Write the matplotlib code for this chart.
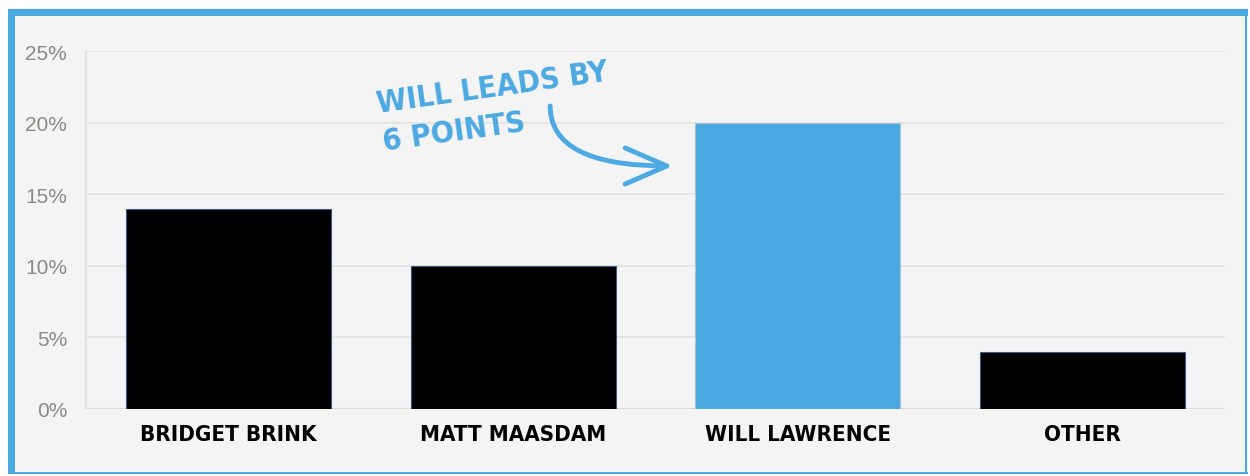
import matplotlib.pyplot as plt
from matplotlib.patches import Rectangle

# data
candidates = ['BRIDGET BRINK', 'MATT MAASDAM', 'WILL LAWRENCE', 'OTHER']
support = [14, 10, 20, 4]
bar_colors = ['#000000', '#000000', '#4aa9e1', '#000000']
edge_colors = ['#3a5a80', '#3a5a80', '#a8c4dc', '#3a5a80']
y_ticks = [0, 5, 10, 15, 20, 25]
y_labels = ['0%', '5%', '10%', '15%', '20%', '25%']

blue = '#4ca9e1'
bg = '#f4f4f4'

fig = plt.figure(figsize=(12.5, 4.77), dpi=100)
fig.patch.set_facecolor('white')

# panel background + blue frame
frame = [
    ((8, 2), 1240, 466, bg),
    ((8, 460), 1240, 7, blue),
    ((8, 2), 7, 465, blue),
    ((1245, 2), 2, 465, blue),
    ((8, 2), 1240, 2, blue),
]
for (fx, fy), fw, fh, fc in frame:
    fig.patches.append(Rectangle((fx / 1250, fy / 477), fw / 1250, fh / 477,
                                 transform=fig.transFigure, facecolor=fc,
                                 edgecolor='none', zorder=-10))

ax = fig.add_axes([86 / 1250, 67 / 477, 1139 / 1250, 358 / 477])
ax.set_facecolor('none')
ax.set_zorder(5)

x = range(len(candidates))
ax.bar(x, support, width=0.72, color=bar_colors, edgecolor=edge_colors,
       linewidth=0.8, zorder=3)

ax.set_xlim(-0.5, 3.5)
ax.set_ylim(0, 25)
ax.set_yticks(y_ticks)
ax.set_yticklabels(y_labels, color='#8a8a85', fontsize=15,
                   family=['Liberation Sans', 'DejaVu Sans'])
ax.set_xticks(list(x))
ax.set_xticklabels(candidates, fontsize=16, fontweight='bold',
                   fontstretch='condensed', family='DejaVu Sans')
ax.tick_params(axis='y', length=0, pad=13.5)
ax.tick_params(axis='x', length=0, pad=11)
ax.grid(axis='y', color='#e4e4de', linewidth=1.2, zorder=0)
for s in ['top', 'right', 'bottom']:
    ax.spines[s].set_visible(False)
ax.spines['left'].set_color('#e0e0da')
ax.spines['left'].set_linewidth(1.2)
ax.axhline(0, color='#dcdcd6', linewidth=1.5, zorder=2)

# annotation
ax.text(0.515, 22.3, 'WILL LEADS BY\n6 POINTS', color=blue, fontsize=22,
        fontweight='bold', fontstretch='condensed', family='DejaVu Sans',
        rotation=8, rotation_mode='anchor', ha='left', va='top',
        linespacing=1.4)
ax.annotate('', xy=(1.561, 16.97), xytext=(1.13, 21.16),
            arrowprops=dict(arrowstyle='->,head_length=1.5,head_width=0.65',
                            color=blue, lw=3.5, mutation_scale=20,
                            shrinkA=0, shrinkB=0,
                            connectionstyle='angle3,angleA=90,angleB=0'))

fig.savefig('out.png', dpi=100)
